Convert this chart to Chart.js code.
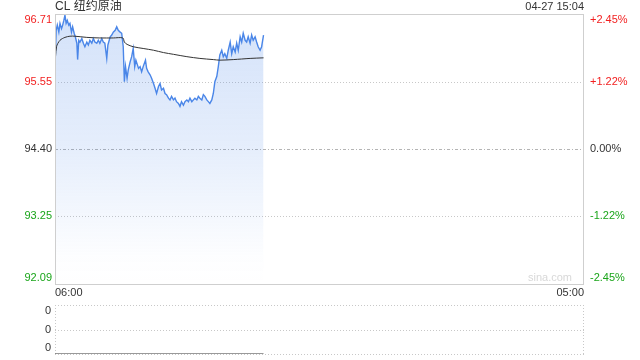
<!DOCTYPE html>
<html>
  <head>
    <title>CL 纽约原油 - 分时</title>
    <script src="https://cdn.jsdelivr.net/npm/chart.js"></script>
    <style>
      body { margin: 0; background: #fff; }
      #wrap { position: relative; width: 640px; height: 360px; }
      canvas { position: absolute; left: 0; }
    </style>
  </head>
  <body>
    <div id="wrap">
      <canvas id="precio" width="640" height="300" style="top:0"></canvas>
      <canvas id="volumen" width="640" height="60" style="top:300px"></canvas>
    </div>

    <script>
      // minutos desde las 06:00
      const tiempos = [0, 3, 6, 10, 13, 17, 20, 23, 26, 29, 32, 36, 39, 43, 46, 50, 53, 57, 59, 62,
        65, 70, 74, 78, 83, 87, 91, 96, 100, 104, 109, 113, 117, 122, 126, 130, 135, 138, 144, 148,
        152, 157, 161, 165, 170, 174, 178, 181, 184, 188, 191, 196, 200, 204, 208, 211, 215, 218, 222, 226,
        230, 236, 239, 243, 248, 252, 257, 261, 265, 270, 274, 278, 283, 287, 291, 296, 300, 304, 309, 313,
        317, 322, 326, 330, 335, 339, 344, 348, 352, 357, 361, 365, 370, 374, 378, 383, 387, 391, 396, 400,
        404, 409, 413, 417, 422, 426, 430, 435, 439, 443, 448, 452, 457, 461, 465, 470, 474, 478, 483, 487,
        491, 496, 500, 504, 509, 513, 517, 522, 526, 530, 535, 539, 544];
      const precios = [95.81, 96.43, 96.52, 96.40, 96.55, 96.46, 96.52, 96.60, 96.69, 96.55, 96.60, 96.52, 96.55, 96.40, 96.49, 96.38, 96.32, 96.21, 95.93, 96.26,
        96.23, 96.29, 96.21, 96.15, 96.23, 96.18, 96.26, 96.21, 96.29, 96.23, 96.21, 96.26, 96.21, 96.29, 96.23, 96.21, 95.95, 96.18, 96.32, 96.35,
        96.40, 96.43, 96.49, 96.43, 96.40, 96.38, 96.15, 95.55, 95.81, 95.61, 95.75, 95.89, 95.98, 96.12, 95.81, 95.92, 95.84, 95.78, 95.81, 95.72,
        95.81, 95.92, 95.78, 95.72, 95.67, 95.61, 95.52, 95.44, 95.35, 95.47, 95.52, 95.41, 95.44, 95.35, 95.33, 95.27, 95.24, 95.30, 95.24, 95.27,
        95.21, 95.18, 95.13, 95.21, 95.15, 95.21, 95.24, 95.21, 95.27, 95.21, 95.24, 95.27, 95.24, 95.30, 95.27, 95.24, 95.33, 95.30, 95.24, 95.21,
        95.18, 95.24, 95.35, 95.55, 95.64, 95.81, 96.01, 96.09, 95.98, 96.03, 95.95, 96.09, 96.23, 96.03, 96.15, 96.06, 96.21, 96.09, 96.32, 96.23,
        96.38, 96.26, 96.23, 96.32, 96.21, 96.35, 96.26, 96.32, 96.23, 96.15, 96.09, 96.15, 96.35];

      // precio medio
      const tiemposMedia = [0, 4, 13, 26, 39, 52, 83, 117, 152, 177, 181, 188, 204, 230, 257, 283, 309, 344, 378, 413, 430, 465, 509, 544];
      const media = [95.81, 96.15, 96.26, 96.31, 96.33, 96.33, 96.31, 96.30, 96.30, 96.30, 96.23, 96.19, 96.15, 96.12, 96.09, 96.05, 96.02, 95.98, 95.95, 95.93, 95.92, 95.93, 95.95, 95.96];

      const volumenes = tiempos.map(() => 0); // sin volumen
      const ticksPrecio = [92.09, 93.25, 94.40, 95.55, 96.71];
      const ticksVolumen = [0, 0.5, 1];
      const etiquetasTiempo = ['06:00', '05:00'];
      const cierreAnterior = 94.40;
      const titulo = 'CL 纽约原油';
      const fechaHora = '04-27 15:04';

      const ROJO = '#f21f1f', VERDE = '#1aa51a', GRIS = '#333';
      const FUENTE = '"Liberation Sans", Arial, "Noto Sans CJK SC", sans-serif';

      const pares = (xs, ys) => xs.map((t, i) => ({ x: t, y: ys[i] }));

      function colorPara(v) {
        if (Math.abs(v - cierreAnterior) < 0.005) return GRIS;
        return v > cierreAnterior ? ROJO : VERDE;
      }

      // dibuja marco, rejilla y textos del grafico de precio
      const marcoPrecio = {
        id: 'marcoPrecio',
        beforeDatasetsDraw(chart) {
          const { ctx, chartArea: a, scales: { y } } = chart;
          ctx.save();
          ticksPrecio.forEach(v => {
            if (v === ticksPrecio[0] || v === ticksPrecio[ticksPrecio.length - 1]) return;
            const py = Math.round(y.getPixelForValue(v)) + 0.5;
            ctx.beginPath();
            if (v === cierreAnterior) { ctx.strokeStyle = '#b4b4b4'; ctx.setLineDash([3, 2, 1, 2]); }
            else { ctx.strokeStyle = '#c8c8c8'; ctx.setLineDash([1, 2]); }
            ctx.moveTo(a.left, py);
            ctx.lineTo(a.right, py);
            ctx.stroke();
          });
          ctx.restore();
        },
        afterDraw(chart) {
          const { ctx, chartArea: a, scales: { x, y } } = chart;
          ctx.save();
          ctx.strokeStyle = '#cfcfcf';
          ctx.lineWidth = 1;
          ctx.strokeRect(a.left + 0.5, a.top + 0.5, a.right - a.left - 1, a.bottom - a.top);

          ctx.font = '11px ' + FUENTE;
          ctx.textBaseline = 'middle';
          ticksPrecio.forEach(v => {
            let py = y.getPixelForValue(v);
            py = Math.min(Math.max(py, a.top + 6), a.bottom - 6);
            ctx.fillStyle = colorPara(v);
            ctx.textAlign = 'right';
            ctx.fillText(v.toFixed(2), a.left - 3, py);
            const pct = (v - cierreAnterior) / cierreAnterior * 100;
            const txt = (pct > 0.005 ? '+' : '') + pct.toFixed(2) + '%';
            ctx.textAlign = 'left';
            ctx.fillText(txt, a.right + 6, py);
          });

          ctx.fillStyle = GRIS;
          ctx.textAlign = 'left';
          ctx.fillText(etiquetasTiempo[0], x.getPixelForValue(0), a.bottom + 9);
          ctx.textAlign = 'right';
          ctx.fillText(etiquetasTiempo[1], x.getPixelForValue(1380), a.bottom + 9);

          ctx.fillText(fechaHora, a.right, 7);
          ctx.font = '12px ' + FUENTE;
          ctx.textAlign = 'left';
          ctx.fillText(titulo, a.left, 7);

          ctx.font = '11px ' + FUENTE;
          ctx.fillStyle = '#d8d8d8';
          ctx.textAlign = 'right';
          ctx.fillText('sina.com', a.right - 12, a.bottom - 6);
          ctx.restore();
        }
      };

      new Chart(document.getElementById('precio'), {
        type: 'line',
        data: {
          datasets: [
            {
              label: 'media',
              data: pares(tiemposMedia, media),
              borderColor: '#333',
              borderWidth: 1,
              pointRadius: 0,
              fill: false,
              tension: 0.3
            },
            {
              label: 'precio',
              data: pares(tiempos, precios),
              borderColor: '#4a86e8',
              borderWidth: 1.4,
              pointRadius: 0,
              fill: 'start',
              backgroundColor: (c) => {
                const a = c.chart.chartArea;
                if (!a) return 'rgba(74,134,232,0.2)';
                const g = c.chart.ctx.createLinearGradient(0, a.top, 0, a.bottom);
                g.addColorStop(0, 'rgba(74,134,232,0.24)');
                g.addColorStop(0.5, 'rgba(74,134,232,0.14)');
                g.addColorStop(0.9, 'rgba(74,134,232,0.01)');
                g.addColorStop(1, 'rgba(74,134,232,0)');
                return g;
              }
            }
          ]
        },
        options: {
          responsive: false,
          animation: false,
          layout: { padding: { top: 14, right: 56, bottom: 16, left: 55 } },
          plugins: { legend: { display: false }, tooltip: { enabled: false } },
          scales: {
            x: { type: 'linear', min: 0, max: 1380, display: false },
            y: { min: ticksPrecio[0], max: ticksPrecio[ticksPrecio.length - 1], display: false }
          }
        },
        plugins: [marcoPrecio]
      });

      const marcoVolumen = {
        id: 'marcoVolumen',
        beforeDatasetsDraw(chart) {
          const { ctx, chartArea: a, scales: { y } } = chart;
          ctx.save();
          ctx.strokeStyle = '#c8c8c8';
          ctx.setLineDash([1, 2]);
          ticksVolumen.forEach(v => {
            const py = Math.round(y.getPixelForValue(v)) + 0.5;
            ctx.beginPath();
            ctx.moveTo(a.left, py);
            ctx.lineTo(a.right, py);
            ctx.stroke();
          });
          ctx.beginPath();
          ctx.moveTo(a.left + 0.5, a.top); ctx.lineTo(a.left + 0.5, a.bottom);
          ctx.moveTo(a.right - 0.5, a.top); ctx.lineTo(a.right - 0.5, a.bottom);
          ctx.stroke();
          ctx.setLineDash([]);
          ctx.font = '11px ' + FUENTE;
          ctx.fillStyle = GRIS;
          ctx.textAlign = 'right';
          ctx.textBaseline = 'middle';
          ticksVolumen.forEach(v => {
            let py = y.getPixelForValue(v);
            py = Math.min(Math.max(py, a.top + 6), a.bottom - 6);
            ctx.fillText('0', a.left - 4, py);
          });
          ctx.restore();
        }
      };

      new Chart(document.getElementById('volumen'), {
        type: 'line',
        data: {
          datasets: [{
            label: 'volumen',
            data: pares(tiempos, volumenes),
            borderColor: '#777',
            borderWidth: 1.5,
            pointRadius: 0,
            fill: false
          }]
        },
        options: {
          responsive: false,
          animation: false,
          layout: { padding: { top: 5, right: 56, bottom: 6, left: 55 } },
          plugins: { legend: { display: false }, tooltip: { enabled: false } },
          scales: {
            x: { type: 'linear', min: 0, max: 1380, display: false },
            y: { min: 0, max: 1, display: false }
          }
        },
        plugins: [marcoVolumen]
      });
    </script>
  </body>
</html>
